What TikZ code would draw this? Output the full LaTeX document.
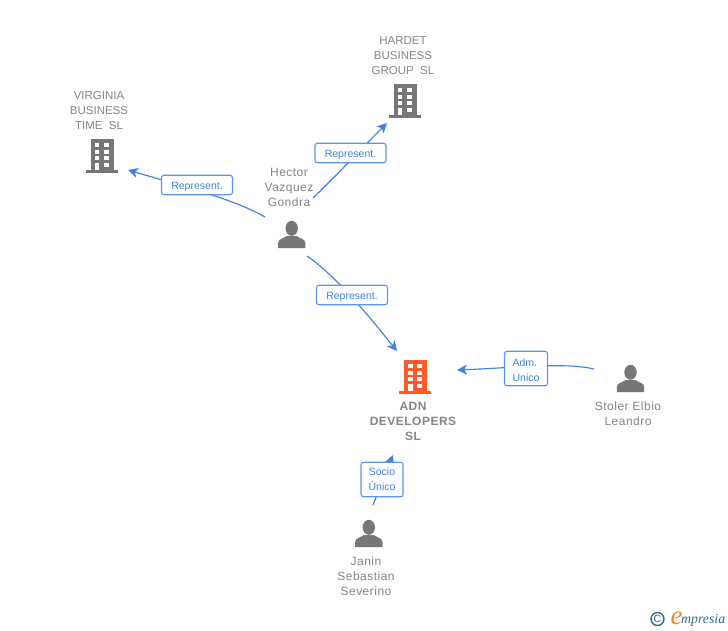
\documentclass[tikz,border=0pt]{standalone}
\usepackage{fontspec}
\setmainfont{Liberation Sans}
\newfontfamily\boldspaced[LetterSpace=4]{Liberation Sans Bold}
\newfontfamily\plainspaced[LetterSpace=4]{Liberation Sans}
\newfontfamily\logoserif{Liberation Serif Italic}
\usetikzlibrary{arrows.meta,shadings}
\definecolor{linkblue}{HTML}{3F82E4}
\definecolor{boxblue}{HTML}{5A96EC}
\definecolor{labelgrey}{HTML}{858585}
\definecolor{icongrey}{HTML}{777777}
\definecolor{hotorange}{HTML}{FF5A2B}
\definecolor{logoteal}{HTML}{2F6F87}
\definecolor{logoorange}{HTML}{F08A24}
\tikzset{
  x=1pt,y=-1pt,
  conn/.style={draw=linkblue,line width=1.15pt,-{Stealth[length=10pt,width=10pt,inset=2.8pt]}},
  rolebox/.style={draw=boxblue,line width=1.1pt,rounded corners=2.5pt,fill=white,
    text=linkblue,font=\fontsize{10.5}{15}\selectfont,align=center,inner sep=0pt,anchor=center},
  onerole/.style={rolebox,minimum width=71pt,minimum height=19.5pt,text depth=0pt},
  entname/.style={text=labelgrey,font=\fontsize{11.5}{15}\selectfont,align=center,inner sep=0pt},
  personname/.style={text=labelgrey,font=\fontsize{12}{15}\plainspaced\selectfont,align=center,inner sep=0pt},
  mainname/.style={text=labelgrey,font=\fontsize{12}{15}\boldspaced\selectfont,align=center,inner sep=0pt},
  pics/tower/.style={code={
    \fill[#1] (-11.5,-17) rectangle (11.5,15);
    \fill[#1] (-16,14.2) rectangle (16,17);
    \foreach \yy in {-13,-6.4,0}{
      \fill[white] (-7.5,\yy) rectangle (-2.8,\yy+4.4);
      \fill[white] (2,\yy) rectangle (6.7,\yy+4.4);
    }
    \fill[white] (-7.5,7) rectangle (-2.8,14.4);
    \fill[white] (2,7) rectangle (6.7,11.4);
  }},
  pics/personicon/.style={code={
    \fill[icongrey] (0,-6.2) ellipse (6.2 and 7.5);
    \fill[icongrey] (-13.7,13.5) -- (-13.7,8.5) .. controls (-13.7,4.5) and (-8,4) .. (-5,1.5)
      -- (5,1.5) .. controls (8,4) and (13.7,4.5) .. (13.7,8.5) -- (13.7,13.5) -- cycle;
  }}
}
\begin{document}
\begin{tikzpicture}
\useasboundingbox (0,0) rectangle (728,630);
\fill[white] (0,0) rectangle (728,630);

% icons
\pic at (102,156) {tower=icongrey};
\pic at (405,101) {tower=icongrey};
\pic at (415.3,377) {tower=hotorange};
\pic at (291.7,234.5) {personicon};
\pic at (630.5,378.5) {personicon};
\pic at (368.8,533.5) {personicon};

% connector ends
\coordinate (hectorW) at (265,217);
\coordinate (hectorN) at (313,198);
\coordinate (hectorS) at (307,256);
\coordinate (stolerW) at (594,369);
\coordinate (janinN) at (373,505);
\coordinate (virginiaE) at (128,170);
\coordinate (hardetS) at (387,123);
\coordinate (adnN) at (397,351);
\coordinate (adnE) at (457,370);
\coordinate (adnS) at (393,455);

% connectors
\draw[conn] (hectorW) .. controls (232,198) and (175,184) .. (virginiaE);
\draw[conn] (hectorN) .. controls (338,174) and (365,145) .. (hardetS);
\draw[conn] (hectorS) .. controls (335,275) and (368,315) .. (adnN);
\draw[conn] (stolerW) .. controls (565,362) and (510,368) .. (adnE);
\draw[conn] (janinN) -- (adnS);

% role labels
\node[onerole] (r1) at (197,185) {\raisebox{-1.2pt}{Represent.}};
\node[onerole] (r2) at (350.5,153) {\raisebox{-1.2pt}{Represent.}};
\node[onerole] (r3) at (352,295) {\raisebox{-1.2pt}{Represent.}};
\node[rolebox,minimum width=43pt,minimum height=34.5pt,align=left] (r4) at (526,368.5) {\rule{0pt}{10.4pt}Adm.\\Unico};
\node[rolebox,minimum width=42pt,minimum height=34.5pt] (r5) at (382,479.5) {Socio\\Único};

% names
\node[entname] (virginia) at (99,110.5) {VIRGINIA\\BUSINESS\\TIME\ \ SL};
\node[entname] (hardet) at (403,55.5) {HARDET\\BUSINESS\\GROUP\ \ SL};
\node[personname] (hector) at (289,187) {Hector\\Vazquez\\Gondra};
\node[mainname] (adn) at (413,421) {ADN\\DEVELOPERS\\SL};
\node[personname] (stoler) at (628,414) {Stoler Elbio\\Leandro};
\node[personname] (janin) at (366,576) {Janin\\Sebastian\\Severino};

% logo
\node[text=logoteal,draw=logoteal,line width=1.4pt,circle,inner sep=0pt,minimum size=13pt,font=\fontsize{10.5}{10.5}\selectfont] (copymark) at (657.5,619) {C};
\node[text=logoorange,font=\fontsize{27}{27}\logoserif\selectfont,inner sep=0pt,anchor=base] (logoe) at (676.5,624.5) {e};
\node[text=logoteal,font=\fontsize{13.8}{13.8}\logoserif\selectfont,inner sep=0pt,anchor=base west] (logotext) at (681,623.5) {mpresia};
\end{tikzpicture}
\end{document}
